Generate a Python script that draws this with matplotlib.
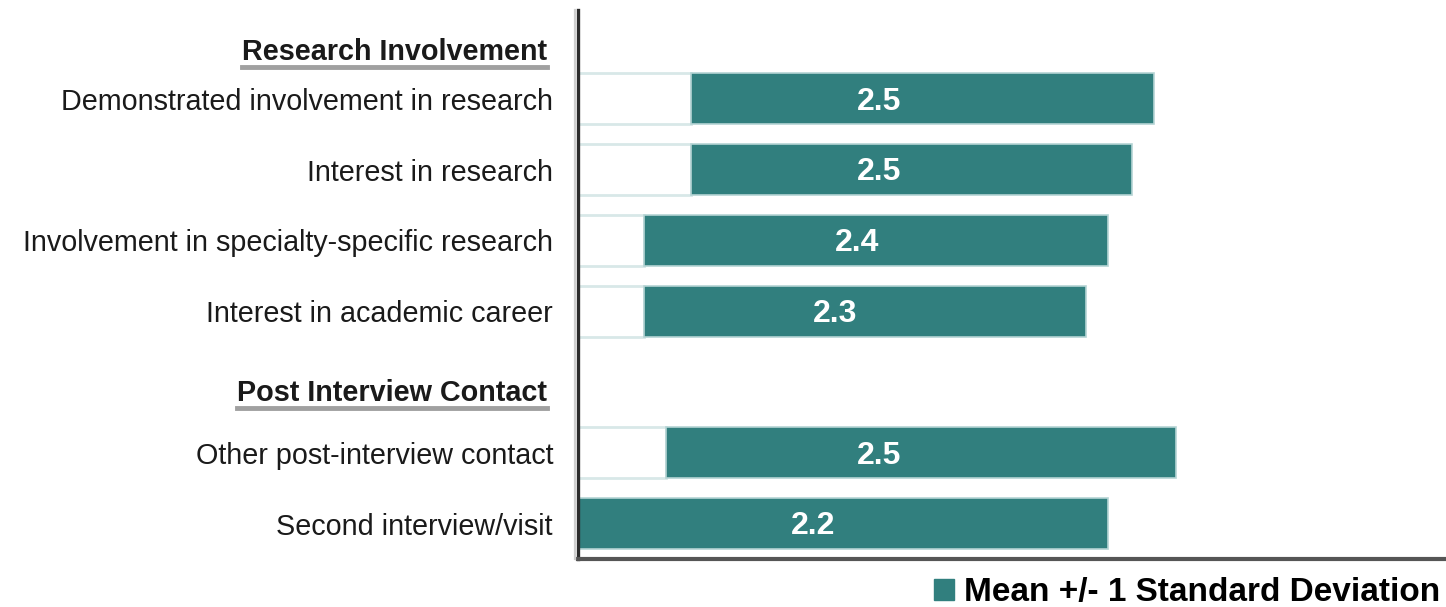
import matplotlib
matplotlib.use("Agg")
import matplotlib.pyplot as plt
from matplotlib.patches import Patch
from matplotlib.lines import Line2D

plt.rcParams["font.family"] = ["Liberation Sans", "DejaVu Sans"]

labels = [
    "Demonstrated involvement in research",
    "Interest in research",
    "Involvement in specialty-specific research",
    "Interest in academic career",
    "Other post-interview contact",
    "Second interview/visit",
]
positions = [0, 1, 2, 3, 5, 6]
means = [2.5, 2.5, 2.4, 2.3, 2.5, 2.2]
lower = [1.51, 1.51, 1.30, 1.30, 1.40, 1.00]
upper = [3.61, 3.51, 3.40, 3.30, 3.71, 3.40]
headers = ["Research Involvement", "Post Interview Contact"]
header_pos = [-0.66, 4.16]
legend_label = "Mean +/- 1 Standard Deviation"

teal = "#317f7e"
W, H = 1446, 607

fig = plt.figure(figsize=(W / 100, H / 100), dpi=100)
ax = fig.add_axes([578 / W, (H - 559) / H, (W - 578) / W, (559 - 10) / H])

x0 = 1.0
bh = 0.72
lo_w = [l - x0 for l in lower]
span_w = [u - l for u, l in zip(upper, lower)]

# invisible offset segment, only its faint edge shows
ax.barh(positions, lo_w, left=x0, height=bh, color="white", edgecolor="#d8e8e8", linewidth=2)
# mean - sd .. mean + sd
ax.barh(positions, span_w, left=lower, height=bh, color=teal, edgecolor="#b5d4d4", linewidth=1.2)

for p, m in zip(positions, means):
    ax.text(m - 0.035, p + 0.04, f"{m:.1f}", ha="right", va="center", color="white",
            fontsize=23, fontweight="bold")

ax.set_xlim(x0, x0 + (W - 578) / 220.7)
ax.set_ylim(6.5, -1.254)

ax.set_yticks(positions)
ax.set_yticklabels(labels, fontsize=20.7, color="#1a1a1a")
ax.tick_params(axis="y", length=0, pad=18)
ax.set_xticks([])

for s in ["top", "right"]:
    ax.spines[s].set_visible(False)
ax.spines["left"].set_color("#2b2b2b")
ax.spines["left"].set_linewidth(2.4)
ax.spines["bottom"].set_color("#555555")
ax.spines["bottom"].set_linewidth(3)

# faint shadow left of the axis line
fig.add_artist(Line2D([574.5 / W, 574.5 / W], [(H - 559) / H, (H - 10) / H], color="#cfcfcf", lw=1.6))

hdr_texts = []
for h, p in zip(headers, header_pos):
    t = ax.text(-(578 - 547) / (W - 578), p, h, transform=ax.get_yaxis_transform(),
                ha="right", va="center", fontsize=20.7, fontweight="bold", color="#1a1a1a")
    hdr_texts.append(t)

fig.canvas.draw()
renderer = fig.canvas.get_renderer()
for t in hdr_texts:
    bb = t.get_window_extent(renderer)
    yb = bb.y0 - 1
    fig.add_artist(Line2D([bb.x0 / W, bb.x1 / W], [yb / H, yb / H], color="#a0a0a0", lw=3.5))

fig.legend(handles=[Patch(color=teal, label=legend_label)], loc="center left",
           bbox_to_anchor=(921 / W, 1 - 593 / H), frameon=False,
           handlelength=0.6, handleheight=0.6, handletextpad=0.3,
           prop={"size": 24, "weight": "bold"}, borderaxespad=0)

fig.savefig("out.png", dpi=100)
